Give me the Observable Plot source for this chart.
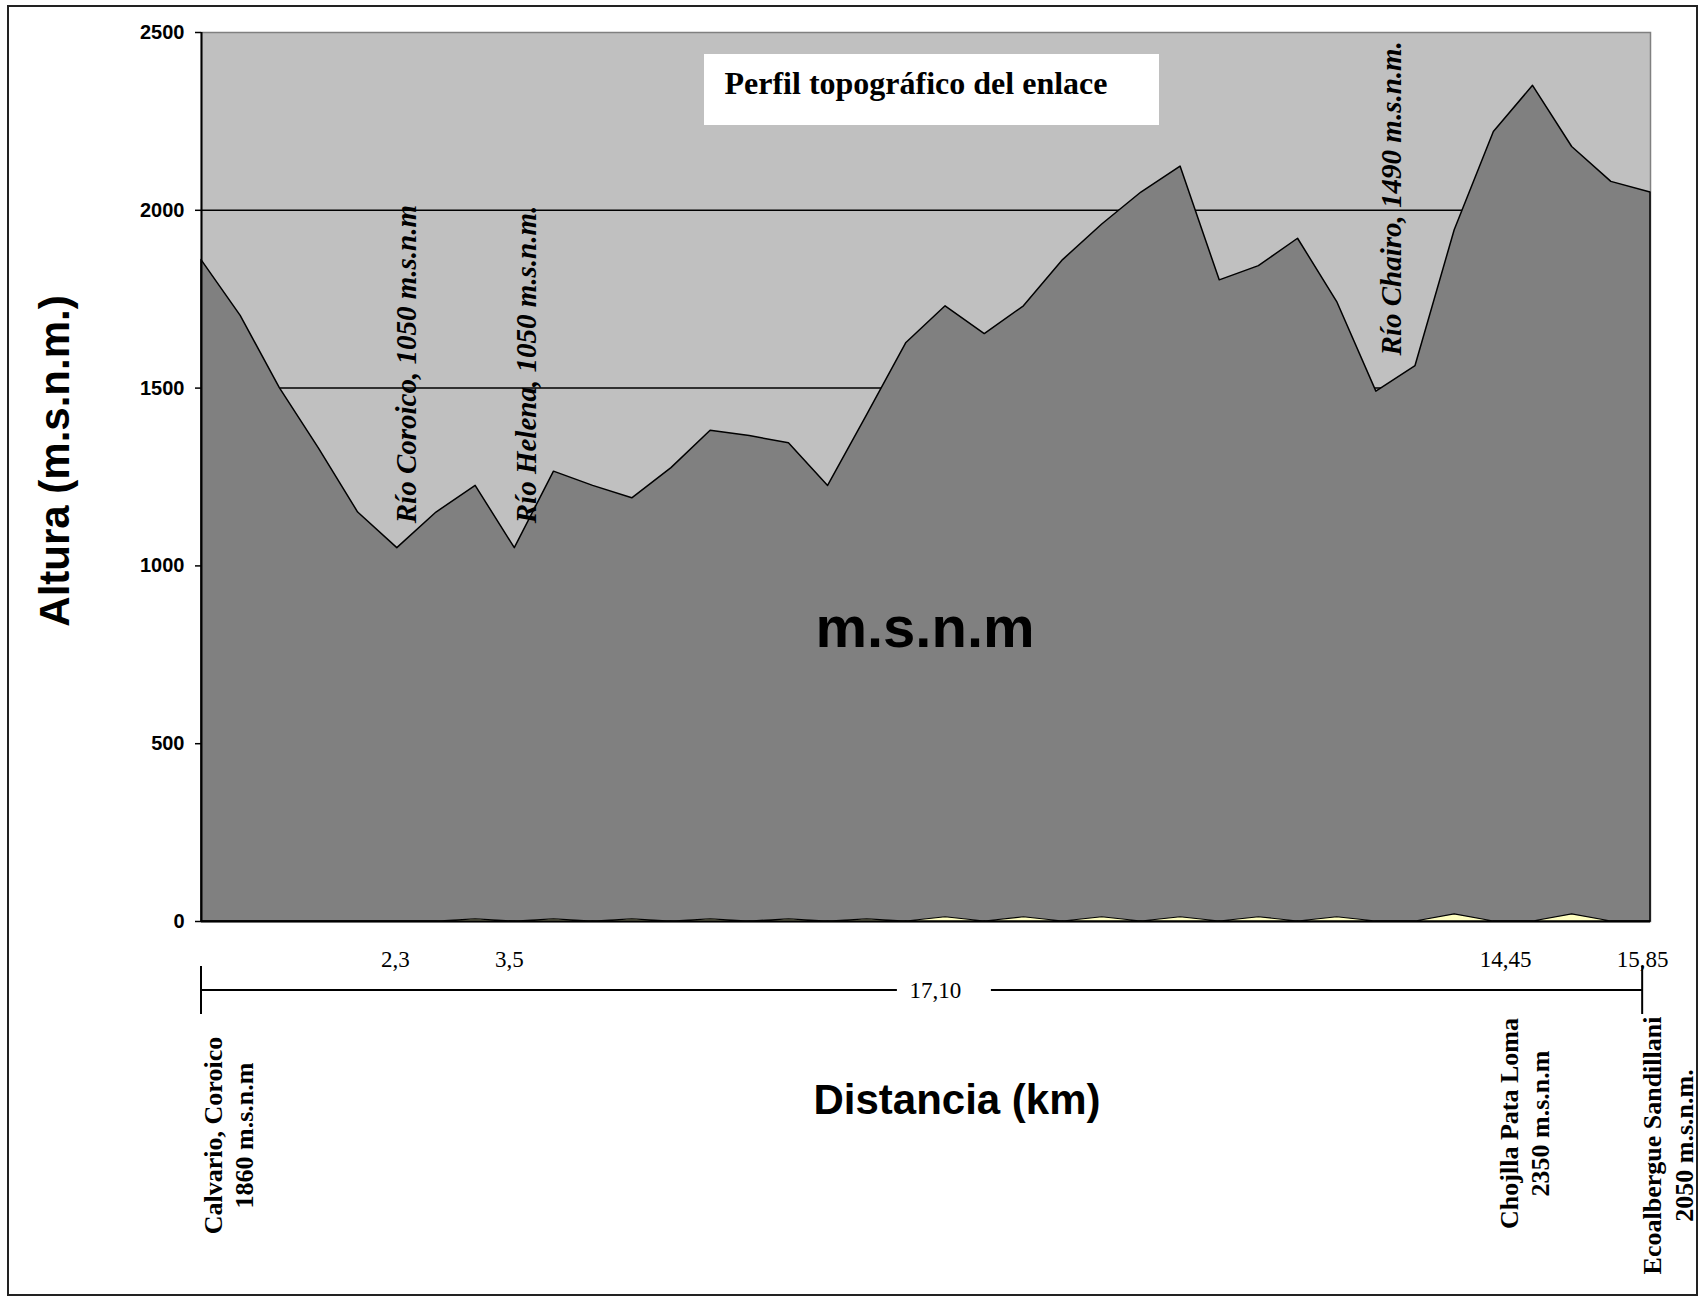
<!DOCTYPE html>
<html>
<head>
<meta charset="utf-8">
<script src="https://cdn.jsdelivr.net/npm/d3@7"></script>
<script src="https://cdn.jsdelivr.net/npm/@observablehq/plot@0.6"></script>
<style>
  html, body { margin: 0; padding: 0; background: #fff; }
  #chart { width: 1699px; height: 1298px; }
</style>
</head>
<body>
<div id="chart"></div>
<script>
// ---- data ----
const elevation = [1860, 1703, 1500, 1330, 1150, 1050, 1150, 1225, 1050, 1265,
                   1225, 1190, 1275, 1380, 1365, 1345, 1225, 1425, 1627, 1730,
                   1652, 1730, 1860, 1960, 2050, 2123, 1803, 1843, 1920, 1742,
                   1490, 1562, 1944, 2220, 2350, 2178, 2080, 2050];
const secondSeries = [0, 0, 0, 0, 0, 0, 0, 6, 0, 6,
                      0, 6, 0, 6, 0, 6, 0, 6, 0, 12,
                      0, 12, 0, 12, 0, 12, 0, 12, 0, 12,
                      0, 0, 20, 0, 0, 20, 0, 0];
const yTicks = [0, 500, 1000, 1500, 2000, 2500];
const gridValues = [500, 1000, 1500, 2000];

const titleText = "Perfil topográfico del enlace";
const yTitle = "Altura (m.s.n.m.)";
const xTitle = "Distancia (km)";
const areaLabel = "m.s.n.m";

const riverLabels = ["Río Coroico, 1050 m.s.n.m", "Río Helena, 1050 m.s.n.m.", "Río Chairo, 1490 m.s.n.m."];
const riverAt = [5.25, 8.31, 30.4];       // point index of each label
const riverFrom = [1120, 1120, 1592];     // altitude where each label starts

const kmLabels = ["2,3", "3,5", "14,45", "15,85"];
const kmAt = [4.95, 7.86, 33.3, 36.8];
const totalDistance = "17,10";
const totalAt = 18.74;

const placeNames = ["Calvario, Coroico\n1860 m.s.n.m",
                    "Chojlla Pata Loma\n2350 m.s.n.m",
                    "Ecoalbergue Sandillani\n2050 m.s.n.m."];
const placeAt = [0.66, 33.75, 37.42];
const placeOffset = [214, 202, 224];

// ---- build ----
const points = elevation.map((e, i) => ({i, elevation: e, second: secondSeries[i]}));
const rivers = riverLabels.map((t, k) => ({t, x: riverAt[k], y: riverFrom[k]}));
const kms = kmLabels.map((t, k) => ({t, x: kmAt[k]}));

const SERIF = "Liberation Serif, Times New Roman, serif";
const SANS = "Liberation Sans, Arial, sans-serif";

const deco = (index, scales, values, dim) => {
  const X = scales.x;
  const g = d3.create("svg:g");
  const bottom = dim.height - dim.marginBottom;
  // outer border of the picture
  g.append("rect").attr("x", 8).attr("y", 6)
    .attr("width", dim.width - 10).attr("height", dim.height - 9)
    .attr("fill", "none").attr("stroke", "#222").attr("stroke-width", 2);
  // white title box
  g.append("rect").attr("x", dim.marginLeft + 503).attr("y", dim.marginTop + 22)
    .attr("width", 455).attr("height", 71).attr("fill", "white");
  // distance dimension bar
  const yb = bottom + 69, x0 = X(0), x1 = X(kmAt[kmAt.length - 1]), xc = X(totalAt);
  g.append("line").attr("x1", x0).attr("x2", xc - 38).attr("y1", yb).attr("y2", yb)
    .attr("stroke", "black").attr("stroke-width", 2);
  g.append("line").attr("x1", xc + 56).attr("x2", x1).attr("y1", yb).attr("y2", yb)
    .attr("stroke", "black").attr("stroke-width", 2);
  for (const xv of [x0, x1]) {
    g.append("line").attr("x1", xv).attr("x2", xv).attr("y1", bottom + 45).attr("y2", bottom + 93)
      .attr("stroke", "black").attr("stroke-width", 2);
  }
  return g.node();
};

const marks = [
  Plot.frame({fill: "#C0C0C0", stroke: "#808080", strokeWidth: 1.5}),
  deco,
  Plot.ruleY(gridValues, {stroke: "black", strokeWidth: 1.5}),
  Plot.areaY(points, {x: "i", y: "elevation", fill: "#808080", stroke: "black", strokeWidth: 1.5}),
  Plot.areaY(points, {x: "i", y: "second", fill: "#FFFFC0", stroke: "black", strokeWidth: 1.2}),
  Plot.ruleX([0], {stroke: "black", strokeWidth: 2}),
  Plot.ruleY([0], {stroke: "black", strokeWidth: 2}),
  Plot.axisY({ticks: yTicks, tickSize: 6, tickPadding: 11, fontSize: 20, fontWeight: "bold",
              fontFamily: SANS, stroke: "black", strokeWidth: 1.5, label: null, tickFormat: d => String(d)}),
  // title
  Plot.text([titleText], {frameAnchor: "top-left", dx: 523, dy: 61, textAnchor: "start", lineAnchor: "bottom",
                          fontSize: 32, fontWeight: "bold", fontFamily: SERIF, fill: "black"}),
  // river labels
  Plot.text(rivers, {x: "x", y: "y", text: "t", rotate: -90, textAnchor: "start", lineAnchor: "middle",
                     fontSize: 29, fontWeight: "bold", fontStyle: "italic", fontFamily: SERIF, fill: "black"}),
  // big label in the area
  Plot.text([areaLabel], {frameAnchor: "middle", dx: -1, dy: 151, fontSize: 58, fontWeight: "bold",
                          fontFamily: SANS, fill: "black"}),
  // axis titles
  Plot.text([yTitle], {frameAnchor: "left", dx: -146, dy: -16, rotate: -90, textAnchor: "middle", lineAnchor: "middle",
                       fontSize: 42, fontWeight: "bold", fontFamily: SANS, fill: "black"}),
  Plot.text([xTitle], {frameAnchor: "bottom", dx: 31, dy: 179, textAnchor: "middle", lineAnchor: "middle",
                       fontSize: 42, fontWeight: "bold", fontFamily: SANS, fill: "black"}),
  // km markers
  Plot.text(kms, {x: "x", text: "t", frameAnchor: "bottom", dy: 38, lineAnchor: "middle",
                  fontSize: 23, fontFamily: SERIF, fill: "black"}),
  Plot.text([totalDistance], {x: [totalAt], frameAnchor: "bottom", dy: 69, lineAnchor: "middle",
                              fontSize: 23, fontFamily: SERIF, fill: "black"}),
  // place names
  ...placeNames.map((t, k) => Plot.text([t], {x: [placeAt[k]], frameAnchor: "bottom", dy: placeOffset[k],
      rotate: -90, textAnchor: "middle", lineAnchor: "middle", lineHeight: 1.2,
      fontSize: 26, fontWeight: "bold", fontFamily: SERIF, fill: "black"}))
];

const chart = Plot.plot({
  width: 1699,
  height: 1298,
  marginLeft: 201,
  marginRight: 49,
  marginTop: 32,
  marginBottom: 377,
  style: {background: "white", color: "black", fontFamily: SANS, overflow: "visible"},
  x: {domain: [0, elevation.length - 1], axis: null},
  y: {domain: [0, 2500], axis: null},
  marks
});
document.getElementById("chart").appendChild(chart);
</script>
</body>
</html>
